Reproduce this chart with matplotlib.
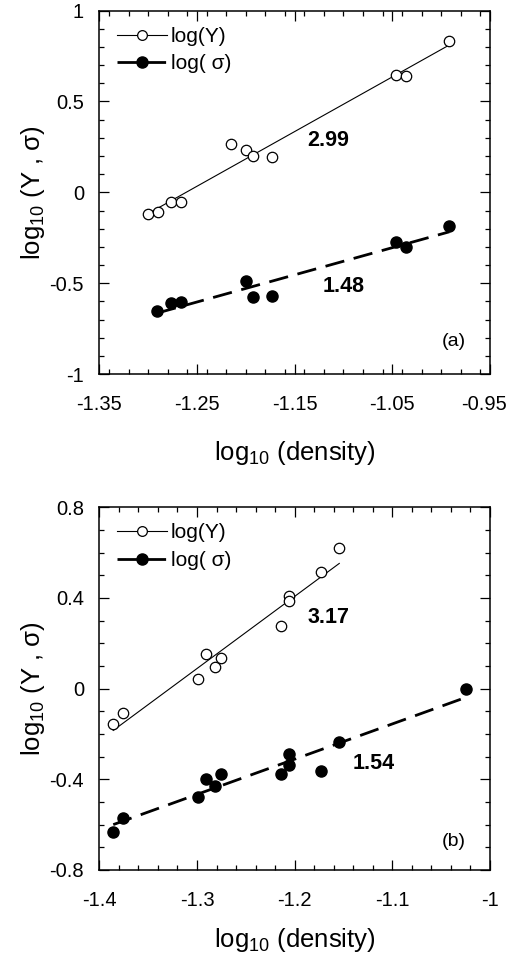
import numpy as np
import matplotlib
matplotlib.use('Agg')
import matplotlib.pyplot as plt
import matplotlib.transforms as mtransforms
from matplotlib.ticker import MultipleLocator

plt.rc('font', family='Liberation Sans', size=14.5)
plt.rc('mathtext', fontset='custom', rm='Liberation Sans')

# panel (a)
xa_Y = np.array([-1.2998, -1.2899, -1.2763, -1.2664, -1.2148, -1.1995, -1.1927, -1.1729, -1.0459, -1.0360, -0.9916])
ya_Y = np.array([-0.121, -0.110, -0.055, -0.055, 0.266, 0.231, 0.200, 0.193, 0.648, 0.640, 0.831])
xa_s = np.array([-1.2910, -1.2763, -1.2664, -1.1995, -1.1927, -1.1729, -1.0459, -1.0360, -0.9916])
ya_s = np.array([-0.655, -0.611, -0.606, -0.488, -0.578, -0.571, -0.275, -0.301, -0.185])

# panel (b)
xb_Y = np.array([-1.3857, -1.3754, -1.2990, -1.2911, -1.2819, -1.2751, -1.2140, -1.2058, -1.2058, -1.1730, -1.1543])
yb_Y = np.array([-0.156, -0.109, 0.043, 0.154, 0.094, 0.134, 0.278, 0.409, 0.388, 0.513, 0.619])
xb_s = np.array([-1.3857, -1.3754, -1.2990, -1.2911, -1.2819, -1.2751, -1.2140, -1.2058, -1.2058, -1.1730, -1.1543, -1.0246])
yb_s = np.array([-0.631, -0.571, -0.479, -0.399, -0.431, -0.378, -0.376, -0.288, -0.337, -0.365, -0.234, -0.003])

slopes_a = ['2.99', '1.48']
slopes_b = ['3.17', '1.54']


def panel(ax, xY, yY, xs, ys, labels, lab_pos, tag, tag_pos, xlim, ylim, xpad):
    # least squares lines
    p = np.poly1d(np.polyfit(xY, yY, 1))
    xt = np.linspace(xY.min(), xY.max(), 50)
    ax.plot(xt, p(xt), 'k-', lw=0.8)
    q = np.poly1d(np.polyfit(xs, ys, 1))
    xt2 = np.linspace(xs.min(), xs.max(), 50)
    ax.plot(xt2, q(xt2), 'k-', lw=2, dashes=(7, 3.5))
    ax.plot(xY, yY, 'o', mfc='white', mec='k', ms=7.5, mew=0.9)
    ax.plot(xs, ys, 'o', mfc='k', mec='k', ms=8)
    h1, = ax.plot([], [], 'k-', lw=0.8, marker='o', mfc='white', mec='k', ms=7, mew=0.9)
    h2, = ax.plot([], [], 'k-', lw=2, dashes=(7, 3.5), marker='o', mfc='k', ms=8)
    ax.legend([h1, h2], ['log(Y)', 'log( σ)'], loc='upper left', frameon=False,
              handlelength=2.4, handletextpad=0.15, borderaxespad=0.0,
              bbox_to_anchor=(0.025, 0.978), fontsize=15, labelspacing=0.4)
    ax.text(lab_pos[0][0], lab_pos[0][1], labels[0], fontsize=15.5, fontweight='bold', ha='center', va='center')
    ax.text(lab_pos[1][0], lab_pos[1][1], labels[1], fontsize=15.5, fontweight='bold', ha='center', va='center')
    ax.text(tag_pos[0], tag_pos[1], tag, fontsize=14, ha='center', va='center')
    ax.set_xlim(*xlim)
    ax.set_ylim(*ylim)
    ax.xaxis.set_minor_locator(MultipleLocator(0.02))
    ax.yaxis.set_minor_locator(MultipleLocator(0.1))
    ax.tick_params(which='both', direction='in', top=True, right=True, width=0.9)
    ax.tick_params(which='major', length=7, labelsize=14.5)
    ax.tick_params(which='minor', length=3.8)
    ax.tick_params(axis='x', which='major', pad=15)
    ax.tick_params(axis='y', which='major', pad=11)
    for s in ax.spines.values():
        s.set_linewidth(1.1)
    ax.set_xlabel('log$_{\\mathregular{10}}$ (density)', fontsize=18.5, labelpad=xpad)
    ax.set_ylabel('log$_{\\mathregular{10}}$ (Y , σ)', fontsize=18.5, labelpad=2)


fig = plt.figure(figsize=(5.11, 9.6), dpi=100)
ax1 = fig.add_axes([0.1943, 0.6104, 0.7646, 0.3785])
ax2 = fig.add_axes([0.1943, 0.0938, 0.7646, 0.3779])

panel(ax1, xa_Y, ya_Y, xa_s, ya_s, slopes_a, [(-1.1155, 0.288), (-1.1002, -0.516)],
      '(a)', (-0.9875, -0.822), (-1.35, -0.95), (-1, 1), 18)
ax1.set_xticks([-1.35, -1.25, -1.15, -1.05, -0.95])
ax1.set_xticklabels(['-1.35', '-1.25', '-1.15', '-1.05', '-0.95'])
ax1.set_yticks([-1, -0.5, 0, 0.5, 1])
ax1.set_yticklabels(['-1', '-0.5', '0', '0.5', '1'])
# keep the last label inside the figure
last = ax1.get_xticklabels()[-1]
last.set_transform(last.get_transform() + mtransforms.ScaledTranslation(-4 / 72, 0, fig.dpi_scale_trans))

panel(ax2, xb_Y, yb_Y, xb_s, yb_s, slopes_b, [(-1.1655, 0.313), (-1.1195, -0.329)],
      '(b)', (-1.0375, -0.675), (-1.4, -1.0), (-0.8, 0.8), 12)
ax2.set_xticks([-1.4, -1.3, -1.2, -1.1, -1.0])
ax2.set_xticklabels(['-1.4', '-1.3', '-1.2', '-1.1', '-1'])
ax2.set_yticks([-0.8, -0.4, 0, 0.4, 0.8])
ax2.set_yticklabels(['-0.8', '-0.4', '0', '0.4', '0.8'])

fig.savefig('out.png', dpi=100)
